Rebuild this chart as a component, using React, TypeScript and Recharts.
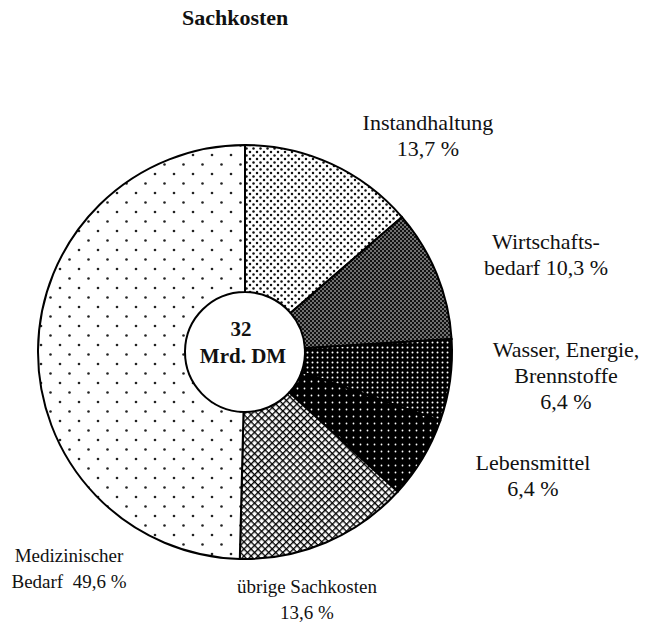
import React from "react";
import { Cell, Label, Pie, PieChart } from "recharts";

const categories = [
  "Instandhaltung",
  "Wirtschaftsbedarf",
  "Wasser, Energie, Brennstoffe",
  "Lebensmittel",
  "übrige Sachkosten",
  "Medizinischer Bedarf",
];
const shares = [13.7, 10.3, 6.4, 6.4, 13.6, 49.6];
const labelLines = [
  ["Instandhaltung", "13,7 %"],
  ["Wirtschafts-", "bedarf 10,3 %"],
  ["Wasser, Energie,", "Brennstoffe", "6,4 %"],
  ["Lebensmittel", "6,4 %"],
  ["übrige Sachkosten", "13,6 %"],
  ["Medizinischer", "Bedarf  49,6 %"],
];
const totalLines = ["32", "Mrd. DM"];

const data = categories.map((name, i) => ({ name, value: shares[i] }));

const CX = 240;
const CY = 347;
// label anchor relative to the pie centre (first line baseline)
const LABEL_OFFSET: [number, number][] = [
  [183, -222],
  [301, -103],
  [321, 5],
  [288, 118],
  [62, 241],
  [-176, 210],
];
const LABEL_SIZE = [22, 22, 22, 22, 19, 19];
const LINE_H = 26;
const FILLS = ["url(#p-inst)", "url(#p-wirt)", "url(#p-wass)", "url(#p-leb)", "url(#p-ueb)", "url(#p-med)"];
const FONT = "'Liberation Serif', 'Times New Roman', serif";

function renderLabel(props: any) {
  const { cx, cy, index } = props;
  const [dx, dy] = LABEL_OFFSET[index];
  return (
    <text
      x={cx + dx}
      y={cy + dy}
      textAnchor="middle"
      fontFamily={FONT}
      fontSize={LABEL_SIZE[index]}
      fill="#111"
    >
      {labelLines[index].map((line, k) => (
        <tspan key={k} x={cx + dx} dy={k === 0 ? 0 : LINE_H} style={{ whiteSpace: "pre" }}>
          {line}
        </tspan>
      ))}
    </text>
  );
}

function renderCentre() {
  return (
    <text x={CX} y={CY - 11} textAnchor="middle" fontFamily={FONT} fontSize={21} fontWeight="bold" fill="#111">
      <tspan x={CX + 1} dy={0}>{totalLines[0]}</tspan>
      <tspan x={CX + 3} dy={27}>{totalLines[1]}</tspan>
    </text>
  );
}

export default function App() {
  return (
    <div style={{ position: "absolute", left: 0, top: 0, width: 653, height: 623, background: "#fff" }}>
      <div
        style={{
          position: "absolute",
          left: 182,
          top: 5,
          fontFamily: FONT,
          fontWeight: "bold",
          fontSize: 22,
          color: "#111",
        }}
      >
        Sachkosten
      </div>
      <PieChart width={653} height={623}>
        <defs>
          <pattern id="p-med" width={19} height={19} patternUnits="userSpaceOnUse">
            <rect width={19} height={19} fill="#fff" />
            <circle cx={3} cy={3} r={1.3} fill="#222" />
            <circle cx={12.5} cy={12.5} r={1.3} fill="#222" />
          </pattern>
          <pattern id="p-inst" width={7} height={7} patternUnits="userSpaceOnUse">
            <rect width={7} height={7} fill="#fff" />
            <circle cx={1.5} cy={1.5} r={1.25} fill="#111" />
            <circle cx={5} cy={5} r={1.25} fill="#111" />
          </pattern>
          <pattern id="p-wirt" width={4} height={4} patternUnits="userSpaceOnUse">
            <rect width={4} height={4} fill="#111" />
            <circle cx={1} cy={1} r={0.75} fill="#fff" />
            <circle cx={3} cy={3} r={0.75} fill="#fff" />
          </pattern>
          <pattern id="p-wass" width={5} height={5} patternUnits="userSpaceOnUse">
            <rect width={5} height={5} fill="#000" />
            <circle cx={2.5} cy={2.5} r={1.0} fill="#fff" />
          </pattern>
          <pattern id="p-leb" width={7} height={7} patternUnits="userSpaceOnUse">
            <rect width={7} height={7} fill="#000" />
            <circle cx={3.5} cy={3.5} r={0.9} fill="#fff" />
          </pattern>
          <pattern id="p-ueb" width={5} height={5} patternUnits="userSpaceOnUse" patternTransform="rotate(45)">
            <rect width={5} height={5} fill="#fff" />
            <line x1={0} y1={0} x2={5} y2={0} stroke="#000" strokeWidth={2.7} />
            <line x1={0} y1={0} x2={0} y2={5} stroke="#000" strokeWidth={2.7} />
          </pattern>
        </defs>
        <Pie
          data={data}
          dataKey="value"
          nameKey="name"
          cx={CX}
          cy={CY}
          innerRadius={60}
          outerRadius={207}
          startAngle={90}
          endAngle={-270}
          stroke="#000"
          strokeWidth={2}
          label={renderLabel}
          labelLine={false}
          isAnimationActive={false}
        >
          {data.map((d, i) => (
            <Cell key={d.name} fill={FILLS[i]} />
          ))}
          <Label position="center" content={renderCentre} />
        </Pie>
      </PieChart>
    </div>
  );
}
